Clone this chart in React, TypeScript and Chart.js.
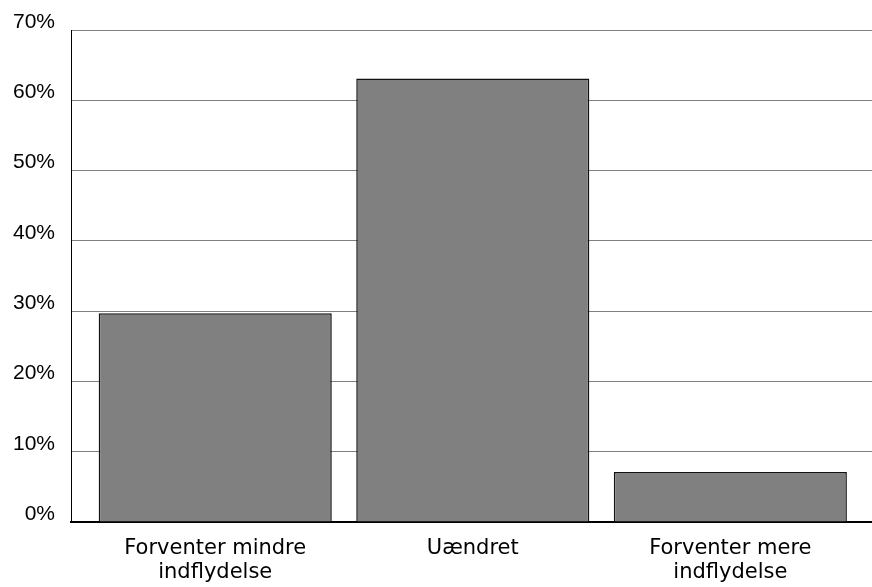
import React, { useEffect, useRef } from "react";
import { Chart, registerables } from "chart.js";

Chart.register(...registerables);

const categories: string[][] = [
  ["Forventer mindre", "indflydelse"],
  ["Uændret"],
  ["Forventer mere", "indflydelse"],
];
const values: number[] = [29.7, 63.1, 7.1];
const yTicks: number[] = [0, 10, 20, 30, 40, 50, 60, 70];

export default function App() {
  const ref = useRef<HTMLCanvasElement>(null);
  useEffect(() => {
    document.body.style.margin = "0";
    const chart = new Chart(ref.current!, {
      type: "bar",
      data: {
        datasets: [
          {
            data: values.map((v, i) => ({ x: i, y: v })),
            backgroundColor: "#808080",
            borderColor: "#111",
            borderWidth: 1.5,
            barPercentage: 0.905,
            categoryPercentage: 1,
          },
        ],
      },
      options: {
        animation: false,
        responsive: false,
        maintainAspectRatio: false,
        layout: { autoPadding: false, padding: { top: 30, left: 13, right: 0, bottom: 0 } },
        plugins: { legend: { display: false }, tooltip: { enabled: false } },
        scales: {
          x: {
            type: "linear",
            min: -0.56,
            max: 2.55,
            offset: false,
            grid: { display: false, drawTicks: false },
            border: { display: true, color: "#000", width: 2 },
            afterBuildTicks: (s: any) => {
              s.ticks = categories.map((_, i) => ({ value: i }));
            },
            afterFit: (s: any) => {
              s.height = 65;
            },
            ticks: {
              callback: (v: any) => categories[v as number],
              font: { family: "DejaVu Sans", size: 21, lineHeight: 1.17 },
              color: "#000",
              padding: 14,
              maxRotation: 0,
              autoSkip: false,
            },
          },
          y: {
            min: 0,
            max: 70,
            afterBuildTicks: (s: any) => {
              s.ticks = yTicks.map((v) => ({ value: v }));
            },
            afterFit: (s: any) => {
              s.width = 58;
            },
            grid: { color: "#808080", lineWidth: 1, drawTicks: false },
            border: { color: "#000", width: 1 },
            ticks: {
              callback: (v: any) => v + "%",
              font: { family: "Liberation Sans", size: 21 },
              color: "#000",
              padding: 16,
              labelOffset: -8,
            },
          },
        },
      } as any,
    });
    return () => chart.destroy();
  }, []);
  return (
    <div style={{ width: 872, height: 587 }}>
      <canvas ref={ref} width={872} height={587} style={{ display: "block" }} />
    </div>
  );
}
